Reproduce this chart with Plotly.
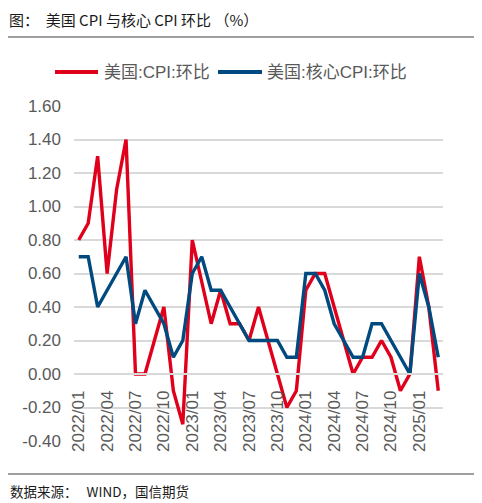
import plotly.graph_objects as go

# Data (month-on-month, %)
MONTHS = [f"{y}/{m:02d}" for y in (2022, 2023, 2024) for m in range(1, 13)] + ["2025/01", "2025/02", "2025/03"]

CPI_MOM = [
    0.8, 0.9, 1.3, 0.6, 1.1, 1.4, 0.0, 0.0, 0.2, 0.4, -0.1, -0.3,
    0.8, 0.55, 0.3, 0.5, 0.3, 0.3, 0.2, 0.4, 0.2, 0.0, -0.2, -0.1,
    0.5, 0.6, 0.6, 0.4, 0.2, 0.0, 0.1, 0.1, 0.2, 0.1, -0.1, 0.0,
    0.7, 0.4, -0.1,
]
CORE_CPI_MOM = [
    0.7, 0.7, 0.4, 0.5, 0.6, 0.7, 0.3, 0.5, 0.4, 0.3, 0.1, 0.2,
    0.6, 0.7, 0.5, 0.5, 0.4, 0.3, 0.2, 0.2, 0.2, 0.2, 0.1, 0.1,
    0.6, 0.6, 0.5, 0.3, 0.2, 0.1, 0.1, 0.3, 0.3, 0.2, 0.1, 0.0,
    0.6, 0.4, 0.1,
]
SERIES_NAMES = ["美国:CPI:环比", "美国:核心CPI:环比"]

TITLE = "图：  美国 CPI 与核心 CPI 环比 （%）"
SOURCE = "数据来源：   WIND，国信期货"

Y_RANGE = [-0.4, 1.6]
Y_TICKS = [-0.4, -0.2, 0.0, 0.2, 0.4, 0.6, 0.8, 1.0, 1.2, 1.4, 1.6]

# Style
RED = "#e0001b"
BLUE = "#004a7f"
GREY_TEXT = "#595959"
GRID = "#d9d9d9"
LATIN_FONT = "Liberation Sans, Noto Sans CJK SC, sans-serif"
CJK_FONT = "Noto Sans CJK SC, sans-serif"
LINE_WIDTH = 3.4

# The page body has an 8px margin, so the figure is drawn 8px smaller
# and every position below is given in window pixels of the reference.
PAGE_OFFSET = 8
WIDTH, HEIGHT = 482 - PAGE_OFFSET, 503 - PAGE_OFFSET
PLOT_LEFT, PLOT_RIGHT, PLOT_TOP, PLOT_BOTTOM = 74, 443, 106, 441
MARGIN = {
    "l": PLOT_LEFT - PAGE_OFFSET,
    "r": WIDTH - (PLOT_RIGHT - PAGE_OFFSET),
    "t": PLOT_TOP - PAGE_OFFSET,
    "b": HEIGHT - (PLOT_BOTTOM - PAGE_OFFSET),
}


def px_x(px):
    return (px - PLOT_LEFT) / (PLOT_RIGHT - PLOT_LEFT)


def px_y(py):
    return (PLOT_BOTTOM - py) / (PLOT_BOTTOM - PLOT_TOP)


fig = go.Figure()
fig.add_trace(go.Scatter(x=MONTHS, y=CPI_MOM, name=SERIES_NAMES[0], mode="lines",
                         line={"color": RED, "width": LINE_WIDTH}))
fig.add_trace(go.Scatter(x=MONTHS, y=CORE_CPI_MOM, name=SERIES_NAMES[1], mode="lines",
                         line={"color": BLUE, "width": LINE_WIDTH}))

zero_pos = (0 - Y_RANGE[0]) / (Y_RANGE[1] - Y_RANGE[0])
n = len(MONTHS)

fig.update_layout(
    width=WIDTH,
    height=HEIGHT,
    margin=MARGIN,
    plot_bgcolor="white",
    paper_bgcolor="white",
    showlegend=False,
    xaxis={
        "type": "category",
        "categoryorder": "array",
        "categoryarray": MONTHS,
        "range": [-0.5, n - 0.5],
        "anchor": "free",
        "position": zero_pos,
        "tickmode": "array",
        "tickvals": MONTHS[::3],
        "ticktext": MONTHS[::3],
        "tickangle": -90,
        "ticks": "",
        "showgrid": False,
        "showline": True,
        "linecolor": GRID,
        "linewidth": 1.5,
        "tickfont": {"family": LATIN_FONT, "size": 17, "color": GREY_TEXT},
        "ticklabelstandoff": 9,
    },
    xaxis2={
        "overlaying": "x",
        "anchor": "free",
        "position": zero_pos,
        "range": [-0.5, n - 0.5],
        "tickmode": "array",
        "tickvals": [k - 0.5 for k in range(0, n + 1, 3)],
        "showticklabels": False,
        "ticks": "outside",
        "ticklen": 6,
        "tickcolor": GRID,
        "tickwidth": 1.5,
        "showgrid": False,
        "showline": False,
        "zeroline": False,
    },
    yaxis={
        "range": Y_RANGE,
        "tickmode": "array",
        "tickvals": Y_TICKS,
        "ticktext": [f"{v:.2f}" for v in Y_TICKS],
        "showgrid": True,
        "gridcolor": GRID,
        "gridwidth": 1.5,
        "zeroline": False,
        "showline": False,
        "ticks": "",
        "ticklabelstandoff": 12,
        "tickfont": {"family": LATIN_FONT, "size": 17, "color": GREY_TEXT},
    },
)

# Legend drawn by hand so the line samples are as long as in the original
legend_items = [
    (SERIES_NAMES[0], RED, 55, 98, 102),
    (SERIES_NAMES[1], BLUE, 218, 262, 265),
]
for name, colour, line_x0, line_x1, text_x in legend_items:
    fig.add_shape(type="line", xref="paper", yref="paper",
                  x0=px_x(line_x0), x1=px_x(line_x1), y0=px_y(72), y1=px_y(72),
                  line={"color": colour, "width": 4})
    fig.add_annotation(text=name, xref="paper", yref="paper", x=px_x(text_x), y=px_y(72),
                       xanchor="left", yanchor="middle", showarrow=False,
                       font={"family": LATIN_FONT, "size": 17, "color": GREY_TEXT})

# Title (kept inside the top edge of the figure), header rule, footer rule, source note
fig.add_annotation(text=TITLE, xref="paper", yref="paper", x=px_x(PAGE_OFFSET), y=px_y(PAGE_OFFSET),
                   xanchor="left", yanchor="top", showarrow=False, borderpad=0,
                   font={"family": CJK_FONT, "size": 15, "color": "#1a1a1a"})
fig.add_annotation(text=SOURCE, xref="paper", yref="paper", x=px_x(PAGE_OFFSET), y=px_y(491),
                   xanchor="left", yanchor="middle", showarrow=False,
                   font={"family": CJK_FONT, "size": 13.5, "color": "#1a1a1a"})
for rule_y in (37, 474):
    fig.add_shape(type="line", xref="paper", yref="paper",
                  x0=px_x(5), x1=px_x(476), y0=px_y(rule_y), y1=px_y(rule_y),
                  line={"color": "#404040", "width": 1.2})

fig.write_html("out.html")
